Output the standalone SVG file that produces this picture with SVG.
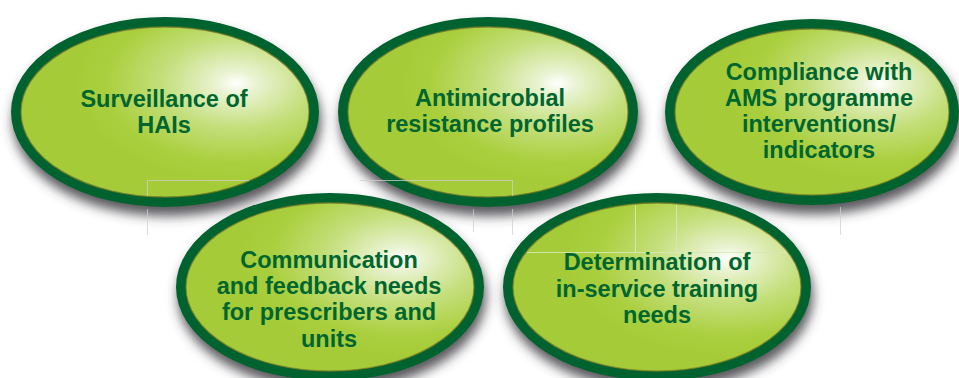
<svg xmlns="http://www.w3.org/2000/svg" width="959" height="378" viewBox="0 0 959 378">
<style>
.fill{fill:url(#g);stroke:#00622e;stroke-width:10}
.inner{fill:none;stroke:#7f7d2a;stroke-width:1.3;opacity:0.75}
.t{font-family:"Liberation Sans",Arial,sans-serif;font-weight:bold;font-size:23.5px;fill:#00662f;text-anchor:middle}
.grid{stroke:#cfcfcf;stroke-width:1;opacity:0.75;fill:none}
</style>
<defs>
<radialGradient id="g" cx="0.74" cy="0.34" r="0.55" fx="0.74" fy="0.34">
<stop offset="0" stop-color="#ffffff"/>
<stop offset="0.12" stop-color="#eaf3d2"/>
<stop offset="0.45" stop-color="#c4df7c"/>
<stop offset="0.8" stop-color="#aacf3e"/>
<stop offset="1" stop-color="#a5cc37"/>
</radialGradient>
<filter id="sh" x="-20%" y="-20%" width="140%" height="150%">
<feGaussianBlur in="SourceAlpha" stdDeviation="6"/>
<feOffset dx="2" dy="9" result="b"/>
<feFlood flood-color="#3a3a40" flood-opacity="0.85"/>
<feComposite in2="b" operator="in" result="s"/>
<feMerge><feMergeNode in="s"/><feMergeNode in="SourceGraphic"/></feMerge>
</filter>
</defs>
<rect width="959" height="378" fill="#ffffff"/>
<g id="n1" filter="url(#sh)">
<ellipse class="fill" cx="165" cy="112" rx="149" ry="90"/>
<ellipse class="inner" cx="165" cy="112" rx="144" ry="85"/>
</g>
<g id="n2" filter="url(#sh)">
<ellipse class="fill" cx="488" cy="112" rx="145" ry="90"/>
<ellipse class="inner" cx="488" cy="112" rx="140" ry="85"/>
</g>
<g id="n3" filter="url(#sh)">
<ellipse class="fill" cx="812" cy="112" rx="142" ry="88"/>
<ellipse class="inner" cx="812" cy="112" rx="137" ry="83"/>
</g>
<g id="connectors" class="grid">
<path d="M147.5 180.5H249M360 180.5H513M147.5 180.5V196M147.5 209V235M512.5 180.5V196M512.5 209V235M473.5 209V232M840.5 207V235"/>
</g>
<g id="n4" filter="url(#sh)">
<ellipse class="fill" cx="330" cy="287" rx="149" ry="89"/>
<ellipse class="inner" cx="330" cy="287" rx="144" ry="84"/>
</g>
<g id="n5" filter="url(#sh)">
<ellipse class="fill" cx="657" cy="287" rx="149" ry="89"/>
<ellipse class="inner" cx="657" cy="287" rx="144" ry="84"/>
</g>
<g class="grid" style="stroke:#d6e8b8;opacity:0.9">
<path d="M635.5 205V252M676.5 205V252M527 252.5H787"/>
</g>
<g id="labels">
<text class="t" x="164" y="107">Surveillance of</text>
<text class="t" x="164" y="133">HAIs</text>
<text class="t" x="490" y="106">Antimicrobial</text>
<text class="t" x="490" y="132">resistance profiles</text>
<text class="t" x="819" y="80">Compliance with</text>
<text class="t" x="819" y="106">AMS programme</text>
<text class="t" x="819" y="132">interventions/</text>
<text class="t" x="819" y="158">indicators</text>
<text class="t" x="329" y="268">Communication</text>
<text class="t" x="329" y="294">and feedback needs</text>
<text class="t" x="329" y="320">for prescribers and</text>
<text class="t" x="329" y="347">units</text>
<text class="t" x="657" y="270">Determination of</text>
<text class="t" x="657" y="297">in-service training</text>
<text class="t" x="657" y="323">needs</text>
</g>
</svg>
